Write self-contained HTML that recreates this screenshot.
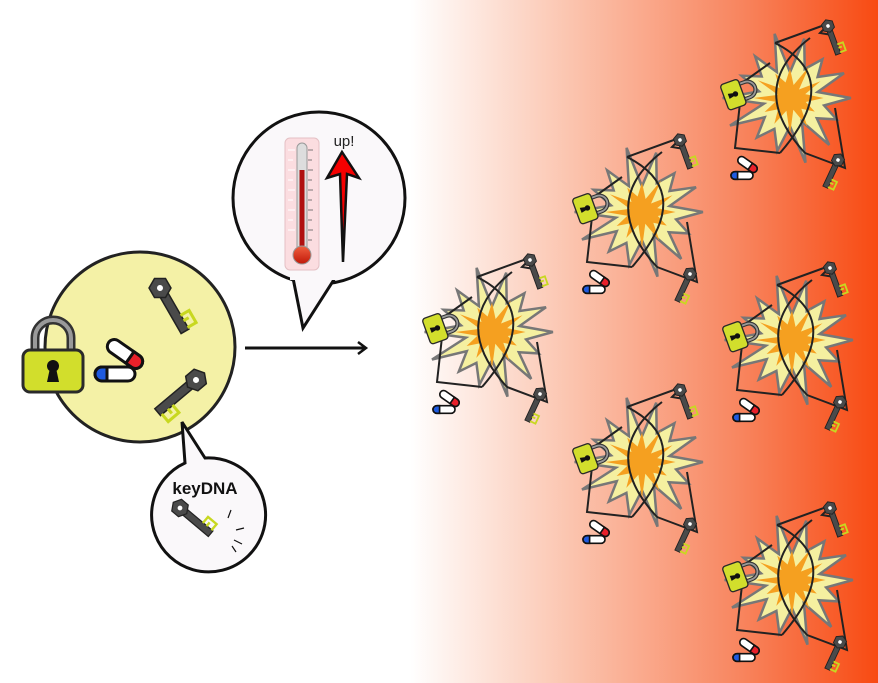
<!DOCTYPE html>
<html><head><meta charset="utf-8"><style>
html,body{margin:0;padding:0;background:#fff}
svg{display:block}
</style></head><body>
<svg id="s" width="878" height="683" viewBox="0 0 878 683" xmlns="http://www.w3.org/2000/svg">
<defs>
<linearGradient id="bg" x1="410" y1="0" x2="878" y2="0" gradientUnits="userSpaceOnUse">
<stop offset="0" stop-color="#ffffff"/>
<stop offset="0.35" stop-color="#fbc3ad"/>
<stop offset="0.7" stop-color="#f88660"/>
<stop offset="1" stop-color="#f84a12"/>
</linearGradient>
<linearGradient id="bulb" x1="0" y1="0" x2="0" y2="1"><stop offset="0" stop-color="#f06040"/><stop offset="1" stop-color="#c01808"/></linearGradient>
<g id="key">
<rect x="-4.5" y="0" width="9" height="50" fill="#4a4a4a" stroke="#222" stroke-width="1.5"/>
<polygon points="0,-11 9.5,-5.5 9.5,5.5 0,11 -9.5,5.5 -9.5,-5.5" fill="#4a4a4a" stroke="#222" stroke-width="1.5"/>
<circle cx="0" cy="0" r="3" fill="#fff"/>
<path d="M4,34 h10 v14 h-10 M4,40 h6" fill="none" stroke="#c8d820" stroke-width="3"/>
</g>
<g id="lock">
<path d="M-18,-8 v-14 a18,18 0 0 1 36,0 v14" fill="none" stroke="#333" stroke-width="9"/>
<path d="M-18,-8 v-14 a18,18 0 0 1 36,0 v14" fill="none" stroke="#999" stroke-width="4"/>
<rect x="-30" y="-10" width="60" height="42" rx="7" fill="#d2de2c" stroke="#2a2a2a" stroke-width="3"/>
<circle cx="0" cy="6" r="6" fill="#111"/>
<polygon points="-3,8 3,8 6,22 -6,22" fill="#111"/>
</g>
<g id="pill">
<g transform="translate(0,10)">
<rect x="-20" y="-7" width="40" height="14" rx="7" fill="#fff" stroke="#111" stroke-width="3"/>
<path d="M-20,0 a7,7 0 0 1 7,-7 h5 v14 h-5 a7,7 0 0 1 -7,-7z" fill="#1e5ae0" stroke="#111" stroke-width="3"/>
</g>
<g transform="translate(10,-10) rotate(35)">
<rect x="-20" y="-7" width="40" height="14" rx="7" fill="#fff" stroke="#111" stroke-width="3"/>
<path d="M20,0 a7,7 0 0 1 -7,7 h-7 v-14 h7 a7,7 0 0 1 7,7z" fill="#e8202a" stroke="#111" stroke-width="3"/>
</g>
</g>
<g id="boom">
<polygon id="p1" fill="#f5f0a0" stroke="#777" stroke-width="2.5"/>
<polygon id="p2" fill="#f5a020"/>
<path d="M-15,-55 Q 55,-20 -10,55 M 20,-60 Q -45,-10 15,55 M-15,-55 l55,-20 l-10,10 l12,2 M15,55 l40,15 l-10,-60 M-10,55 l-45,-5 l5,-45 M-20,-35 l-35,25 l10,10" fill="none" stroke="#222" stroke-width="2"/>
</g>
<g id="set">
<use href="#boom"/>
<use href="#lock" transform="translate(-52,-5) rotate(70) scale(0.45)"/>
<use href="#pill" transform="translate(-48,72) scale(0.55)"/>
<use href="#key" transform="translate(38,-72) rotate(-20) scale(0.6)"/>
<use href="#key" transform="translate(48,62) rotate(25) scale(0.6)"/>
</g>
</defs>
<rect x="0" y="0" width="878" height="683" fill="url(#bg)"/>

<!-- main circle -->
<circle cx="140" cy="347" r="95" fill="#f4f1a6" stroke="#222" stroke-width="3"/>
<use href="#lock" transform="translate(53,360)"/>
<use href="#pill" transform="translate(115,364)"/>
<use href="#key" transform="translate(160,288) rotate(-30)"/>
<use href="#key" transform="translate(196,380) rotate(50)"/>

<!-- keyDNA bubble -->
<path d="M182,422 L205,458 A57,57 0 1 1 185,463 Z" fill="#faf8fa" stroke="#111" stroke-width="3" stroke-linejoin="miter"/>
<text x="205" y="494" text-anchor="middle" font-family="Liberation Sans, sans-serif" font-weight="bold" font-size="17" fill="#111">keyDNA</text>
<use href="#key" transform="translate(180,508) rotate(-50) scale(0.8)"/>
<path d="M228,518 l3,-8 M236,530 l8,-2 M234,540 l8,4 M232,546 l4,6" stroke="#111" stroke-width="1.2"/>

<!-- thermometer bubble -->
<circle cx="319" cy="198" r="86" fill="#faf8fa" stroke="#111" stroke-width="3"/>
<polygon points="293,278 303,328 335,278" fill="#faf8fa" stroke="#111" stroke-width="3" stroke-linejoin="miter"/>
<rect x="290" y="260" width="48" height="20" fill="#faf8fa"/>
<rect x="285" y="138" width="34" height="132" rx="5" fill="#fbdde0" stroke="#e4c0c4"/>
<rect x="297" y="143" width="10" height="110" rx="5" fill="#ddd" stroke="#999"/>
<rect x="299.5" y="170" width="5" height="85" fill="#b01010"/>
<circle cx="302" cy="255" r="9" fill="url(#bulb)" stroke="#999"/>
<g stroke="#555" stroke-width="0.8">
<path d="M308,150h5M308,160h4M308,170h5M308,180h4M308,190h5M308,200h4M308,210h5M308,220h4M308,230h5M308,240h4"/>
</g>
<g stroke="#fff" stroke-width="1">
<path d="M288,150h7M288,160h5M288,170h7M288,180h5M288,190h7M288,200h5M288,210h7M288,220h5M288,230h7"/>
</g>
<text x="344" y="146" text-anchor="middle" font-family="Liberation Sans, sans-serif" font-size="15" fill="#222">up!</text>
<polygon points="342,152 359,178 347,174 343,262 340,174 327,178" fill="#f40000" stroke="#111" stroke-width="2.5" stroke-linejoin="miter"/>

<!-- arrow -->
<line x1="245" y1="348" x2="365" y2="348" stroke="#111" stroke-width="3"/>
<path d="M358,342 L366,348 L358,354" fill="none" stroke="#111" stroke-width="2.5"/>

<use href="#set" transform="translate(492,332)"/>
<use href="#set" transform="translate(642,212)"/>
<use href="#set" transform="translate(790,98)"/>
<use href="#set" transform="translate(792,340)"/>
<use href="#set" transform="translate(642,462)"/>
<use href="#set" transform="translate(792,580)"/>
</svg>
<script>
function star(n,ro,ri,jit){var p=[];for(var i=0;i<2*n;i++){var a=Math.PI*i/n;var r=(i%2?ri:ro)*(1+jit*Math.sin(i*2.3));p.push((r*Math.cos(a)*1.05).toFixed(1)+','+(r*Math.sin(a)).toFixed(1));}return p.join(' ');}
document.getElementById('p1').setAttribute('points',star(14,58,30,0.15));
document.getElementById('p2').setAttribute('points',star(12,32,14,0.15));
</script>
</body></html>
